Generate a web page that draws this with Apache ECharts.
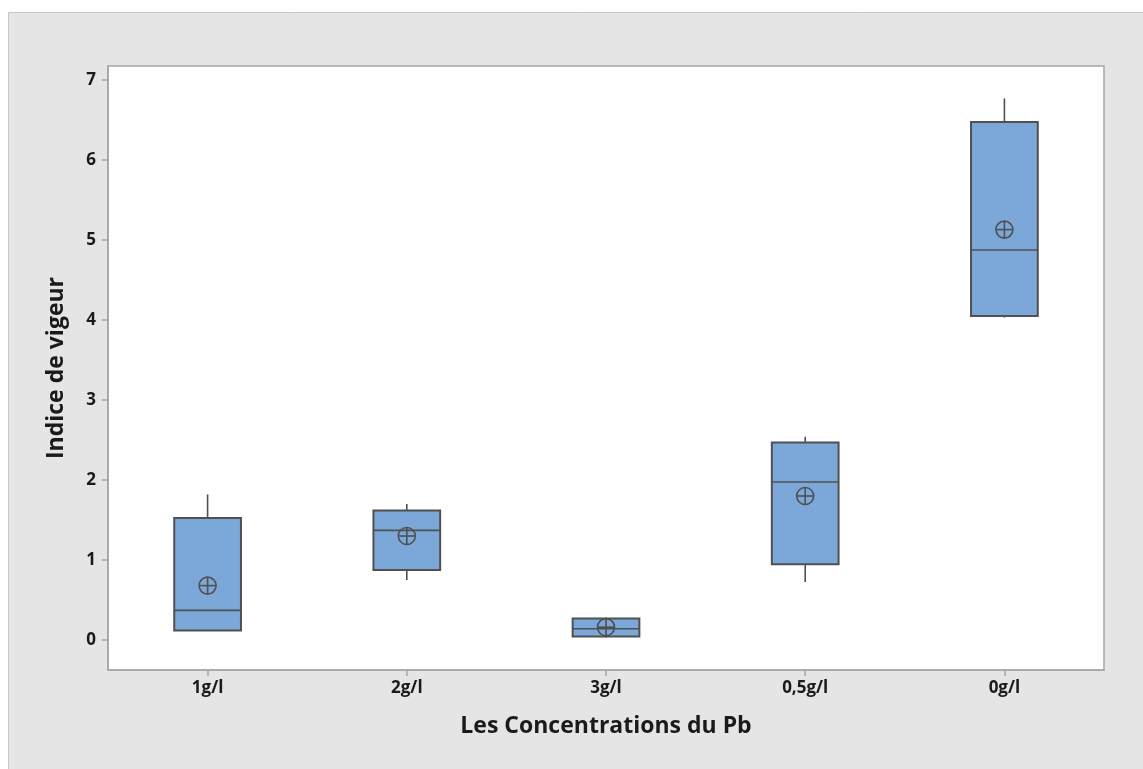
<!DOCTYPE html>
<html>
<head>
<meta charset="utf-8">
<script src="https://cdn.jsdelivr.net/npm/echarts@6/dist/echarts.min.js"></script>
<style>
  html, body { margin: 0; padding: 0; background: #ffffff; }
  #chart { width: 1143px; height: 769px; }
</style>
</head>
<body>
<div id="chart"></div>
<script>
// Concentration groups along the horizontal axis
const categories = ['1g/l', '2g/l', '3g/l', '0,5g/l', '0g/l'];

// Five-number summaries of the vigour index per group
const whiskerLow  = [0.12, 0.75, 0.03, 0.725, 4.03];
const quartile1   = [0.12, 0.875, 0.045, 0.946, 4.05];
const medians     = [0.37, 1.37, 0.14, 1.975, 4.875];
const quartile3   = [1.525, 1.62, 0.27, 2.47, 6.475];
const whiskerHigh = [1.82, 1.70, 0.28, 2.54, 6.77];
const means       = [0.68, 1.30, 0.16, 1.80, 5.13];

// Vertical axis tick values
const yTicks = [0, 1, 2, 3, 4, 5, 6, 7];

const FONT = '"Open Sans", "Noto Sans", sans-serif';
const INK = '#505050';
const TEXT = '#1a1a1a';
const FRAME = '#a6a6a6';

const rows = categories.map((c, i) => [i, whiskerLow[i], quartile1[i], medians[i], quartile3[i], whiskerHigh[i], means[i]]);

function renderBox(params, api) {
  const idx = api.value(0);
  const lo = api.coord([idx, api.value(1)]);
  const q1 = api.coord([idx, api.value(2)]);
  const md = api.coord([idx, api.value(3)]);
  const q3 = api.coord([idx, api.value(4)]);
  const hi = api.coord([idx, api.value(5)]);
  const mn = api.coord([idx, api.value(6)]);
  const band = api.size([1, 0])[0];
  const w = band * 0.335;
  const x = lo[0];
  const r = 8.5;
  const lineStyle = { stroke: INK, lineWidth: 1.6 };
  return {
    type: 'group',
    children: [
      { type: 'line', shape: { x1: x, y1: hi[1], x2: x, y2: q3[1] }, style: lineStyle },
      { type: 'line', shape: { x1: x, y1: q1[1], x2: x, y2: lo[1] }, style: lineStyle },
      { type: 'rect', shape: { x: x - w / 2, y: q3[1], width: w, height: q1[1] - q3[1] },
        style: { fill: '#7ba7d9', stroke: INK, lineWidth: 2 } },
      { type: 'line', shape: { x1: x - w / 2, y1: md[1], x2: x + w / 2, y2: md[1] }, style: lineStyle },
      { type: 'circle', shape: { cx: mn[0], cy: mn[1], r: r }, style: { fill: null, stroke: INK, lineWidth: 1.6 } },
      { type: 'line', shape: { x1: mn[0] - r, y1: mn[1], x2: mn[0] + r, y2: mn[1] }, style: lineStyle },
      { type: 'line', shape: { x1: mn[0], y1: mn[1] - r, x2: mn[0], y2: mn[1] + r }, style: lineStyle }
    ]
  };
}

const chart = echarts.init(document.getElementById('chart'), null, { renderer: 'canvas' });
chart.setOption({
  backgroundColor: '#ffffff',
  animation: false,
  graphic: [{
    type: 'rect', z: -10, silent: true,
    shape: { x: 8.5, y: 12.5, width: 1160, height: 800 },
    style: { fill: '#e5e5e5', stroke: '#c6c6c6', lineWidth: 1 }
  }],
  grid: {
    left: 108, top: 66, right: 39, bottom: 99,
    show: true, backgroundColor: '#ffffff', borderColor: FRAME, borderWidth: 1.5
  },
  xAxis: {
    type: 'category',
    data: categories,
    boundaryGap: true,
    position: 'bottom',
    name: 'Les Concentrations du Pb',
    nameLocation: 'middle',
    nameGap: 45,
    nameTextStyle: { fontFamily: FONT, fontSize: 23, fontWeight: 'bold', color: TEXT },
    axisLine: { show: true, onZero: false, lineStyle: { color: FRAME, width: 1.5 } },
    axisTick: { show: true, inside: false, alignWithLabel: true, interval: 0, length: 6, lineStyle: { color: FRAME, width: 1.5 } },
    axisLabel: { fontFamily: FONT, fontSize: 17, fontWeight: 'bold', color: TEXT, margin: 10 },
    splitLine: { show: false }
  },
  yAxis: {
    type: 'value',
    min: -0.375,
    max: 7.175,
    position: 'left',
    name: 'Indice de vigeur',
    nameLocation: 'middle',
    nameGap: 40,
    nameTextStyle: { fontFamily: FONT, fontSize: 23, fontWeight: 'bold', color: TEXT },
    axisLine: { show: true, onZero: false, lineStyle: { color: FRAME, width: 1.5 } },
    axisTick: { show: true, inside: false, length: 6, customValues: yTicks, lineStyle: { color: FRAME, width: 1.5 } },
    axisLabel: { fontFamily: FONT, fontSize: 17, fontWeight: 'bold', color: TEXT, margin: 12, customValues: yTicks },
    splitLine: { show: false }
  },
  series: [{
    type: 'custom',
    renderItem: renderBox,
    encode: { x: 0, y: [1, 2, 3, 4, 5, 6] },
    data: rows,
    clip: false
  }]
});
</script>
</body>
</html>
